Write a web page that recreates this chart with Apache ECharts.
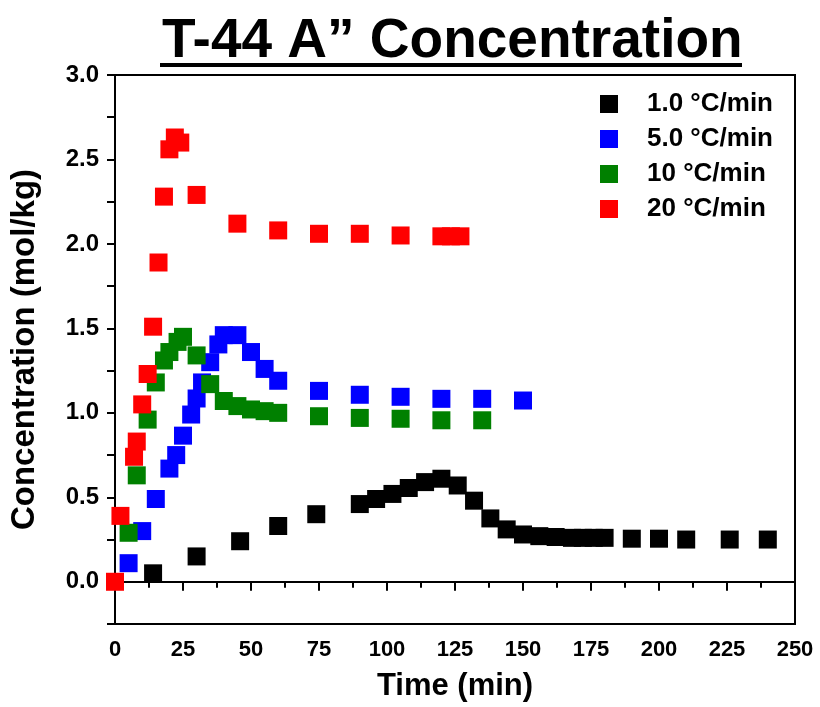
<!DOCTYPE html>
<html lang="en">
<head>
    <title>T-44 A” Concentration</title>
    <meta charset="utf-8">
    <script src="https://cdn.jsdelivr.net/npm/echarts@6/dist/echarts.min.js"></script>
    <style>
        html, body { margin: 0; padding: 0; background: #fff; }
        #main { width: 820px; height: 707px; }
    </style>
</head>
<body>
    <div id="main"></div>
    <script type="text/javascript">
        // 1.0 °C/min
        var time1 = [14, 30, 46, 60, 74, 90, 96, 102, 108, 114, 120, 126, 132, 138, 144, 150, 156, 162, 168, 172, 176, 180, 190, 200, 210, 226, 240];
        var conc1 = [0.05, 0.15, 0.24, 0.33, 0.40, 0.46, 0.49, 0.52, 0.555, 0.59, 0.61, 0.57, 0.48, 0.375, 0.31, 0.28, 0.27, 0.265, 0.26, 0.26, 0.26, 0.26, 0.255, 0.255, 0.25, 0.25, 0.25];
        // 5.0 °C/min
        var time5 = [5, 10, 15, 20, 22.5, 25, 28, 30, 32, 35, 38, 40, 45, 50, 55, 60, 75, 90, 105, 120, 135, 150];
        var conc5 = [0.11, 0.30, 0.49, 0.67, 0.75, 0.865, 0.99, 1.085, 1.18, 1.30, 1.405, 1.46, 1.46, 1.36, 1.26, 1.19, 1.13, 1.107, 1.095, 1.083, 1.083, 1.073];
        // 10 °C/min
        var time10 = [5, 8, 12, 15, 18, 20, 23, 25, 30, 35, 40, 45, 50, 55, 60, 75, 90, 105, 120, 135];
        var conc10 = [0.29, 0.63, 0.96, 1.18, 1.31, 1.36, 1.42, 1.45, 1.34, 1.17, 1.07, 1.04, 1.02, 1.01, 1.0, 0.98, 0.97, 0.965, 0.956, 0.956];
        // 20 °C/min
        var time20 = [0, 2, 7, 8, 10, 12, 14, 16, 18, 20, 22, 24, 30, 45, 60, 75, 90, 105, 120, 123.5, 127];
        var conc20 = [0.0, 0.39, 0.74, 0.83, 1.05, 1.23, 1.51, 1.89, 2.28, 2.56, 2.63, 2.60, 2.29, 2.12, 2.08, 2.06, 2.06, 2.05, 2.045, 2.045, 2.045];

        var seriesNames = ["1.0 °C/min", "5.0 °C/min", "10 °C/min", "20 °C/min"];
        var xTicks = [0, 25, 50, 75, 100, 125, 150, 175, 200, 225, 250];
        var yTicks = ["0.0", "0.5", "1.0", "1.5", "2.0", "2.5", "3.0"];

        var colors = ["#000000", "#0000FF", "#008000", "#FF0000"];
        var font = "'Liberation Sans', Arial, sans-serif";

        function pairs(xs, ys) {
            return xs.map(function (x, i) { return [x, ys[i]]; });
        }
        var seriesData = [pairs(time1, conc1), pairs(time5, conc5), pairs(time10, conc10), pairs(time20, conc20)];

        var mychart = echarts.init(document.getElementById("main"));
        var option = {
            backgroundColor: "#fff",
            color: colors,
            animation: false,
            textStyle: { fontFamily: font, fontWeight: "bold", color: "#000" },
            title: {
                text: "T-44 A” Concentration",
                left: 157,
                top: 9,
                textStyle: { fontFamily: font, fontSize: 55, fontWeight: "bold", color: "#000" }
            },
            graphic: [{
                type: "rect",
                shape: { x: 160, y: 63, width: 582, height: 4 },
                style: { fill: "#000" }
            }],
            legend: {
                orient: "vertical",
                left: 595,
                top: 86,
                icon: "rect",
                itemWidth: 18,
                itemHeight: 18,
                itemGap: 9,
                data: seriesNames,
                textStyle: {
                    fontFamily: font, fontSize: 26, fontWeight: "bold", color: "#000",
                    lineHeight: 26, padding: [0, 0, 0, 24]
                }
            },
            grid: {
                show: true,
                left: 114,
                right: 25,
                top: 75,
                bottom: 75,
                borderColor: "#000",
                borderWidth: 2,
                containLabel: false
            },
            xAxis: {
                type: "value",
                min: xTicks[0],
                max: xTicks[xTicks.length - 1],
                interval: 25,
                name: "Time (min)",
                nameLocation: "middle",
                nameGap: 47,
                nameTextStyle: { fontFamily: font, fontSize: 31, fontWeight: "bold", color: "#000" },
                axisLine: { show: true, lineStyle: { color: "#000", width: 2 } },
                axisTick: { show: true, inside: false, length: 9, lineStyle: { color: "#000", width: 2 } },
                minorTick: { show: true, splitNumber: 2, length: 6, lineStyle: { color: "#000", width: 2 } },
                splitLine: { show: false },
                axisLabel: {
                    fontFamily: font, fontSize: 22, fontWeight: "bold", color: "#000", margin: 15,
                    formatter: function (v) { return xTicks.indexOf(v) >= 0 ? String(v) : ""; }
                }
            },
            yAxis: {
                type: "value",
                min: -0.25,
                max: 3.0,
                interval: 0.25,
                name: "Concentration (mol/kg)",
                nameLocation: "middle",
                nameGap: 74,
                nameTextStyle: { fontFamily: font, fontSize: 33, fontWeight: "bold", color: "#000" },
                axisLine: { show: true, lineStyle: { color: "#000", width: 2 } },
                axisTick: { show: true, inside: false, length: 8, lineStyle: { color: "#000", width: 2 } },
                splitLine: { show: false },
                axisLabel: {
                    fontFamily: font, fontSize: 24, fontWeight: "bold", color: "#000", margin: 16,
                    formatter: function (v) {
                        var s = v.toFixed(1);
                        return (Math.abs(v * 2 - Math.round(v * 2)) < 1e-6 && yTicks.indexOf(s) >= 0) ? s : "";
                    }
                }
            },
            series: seriesData.map(function (d, idx) {
                return {
                    type: "scatter",
                    name: seriesNames[idx],
                    symbol: "rect",
                    symbolSize: 18,
                    data: d,
                    itemStyle: { color: colors[idx], opacity: 1 }
                };
            })
        };
        mychart.setOption(option);
    </script>
</body>
</html>
